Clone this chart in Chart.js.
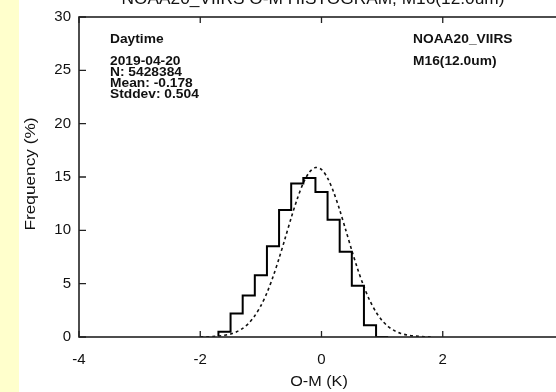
<!DOCTYPE html>
<html>
<head>
<meta charset="utf-8">
<script src="https://cdn.jsdelivr.net/npm/chart.js@4.4.1/dist/chart.umd.min.js"></script>
<style>
  html, body { margin: 0; padding: 0; overflow: hidden; background: #fff; }
  #strip { position: absolute; left: 0; top: 0; width: 19px; height: 392px; background: #ffffcc; }
  #wrap { position: absolute; left: 0; top: 0; width: 578px; height: 392px; }
</style>
</head>
<body>
<div id="wrap"><canvas id="histChart" width="578" height="392"></canvas></div>
<div id="strip"></div>
<script>
// Histogram bin edges (K) and frequency (%) held from each edge to the next
const binEdges = [-1.7, -1.5, -1.3, -1.1, -0.9, -0.7, -0.5, -0.3, -0.1, 0.1, 0.3, 0.5, 0.7, 0.9, 1.1];
const binFreq  = [0.1, 0.5, 2.2, 3.9, 5.8, 8.5, 11.9, 14.4, 14.9, 13.6, 11.0, 8.0, 4.8, 1.1, 0];

// Dashed fitted curve
const fitX = [-2.0, -1.9, -1.8, -1.7, -1.6, -1.5, -1.4, -1.3, -1.2, -1.1, -1.0, -0.9, -0.8, -0.7, -0.6, -0.5, -0.4, -0.3, -0.2, -0.1,
              0.0, 0.1, 0.2, 0.3, 0.4, 0.5, 0.6, 0.7, 0.8, 0.9, 1.0, 1.1, 1.2, 1.3, 1.4, 1.5, 1.6, 1.7, 1.8];
const fitY = [0.01, 0.02, 0.04, 0.08, 0.16, 0.28, 0.49, 0.81, 1.29, 1.99, 2.93, 4.14, 5.64, 7.37, 9.25, 11.17, 12.95, 14.43, 15.45, 15.89,
              15.70, 14.90, 13.59, 11.91, 10.03, 8.11, 6.31, 4.71, 3.38, 2.33, 1.54, 0.98, 0.60, 0.35, 0.20, 0.11, 0.06, 0.03, 0.01];

const xTicks = [-4, -2, 0, 2, 4];
const yTicks = [0, 5, 10, 15, 20, 25, 30];

const titleText = 'NOAA20_VIIRS O-M HISTOGRAM, M16(12.0um)';
const leftNotes = ['2019-04-20', 'N: 5428384', 'Mean: -0.178', 'Stddev: 0.504'];
const rightNotes = ['NOAA20_VIIRS', 'M16(12.0um)'];

const FONT = '"Liberation Sans", Arial, Helvetica, sans-serif';

// stretched text, the old plot font runs wider than Arial
function wideText(ctx, text, x, y, sx) {
    ctx.save();
    ctx.translate(x, y);
    ctx.scale(sx, 1);
    ctx.fillText(text, 0, 0);
    ctx.restore();
}

// frame, inward ticks, titles and notes
const framePlugin = {
    id: 'frame',
    afterDraw(chart) {
        const { ctx, chartArea: a, scales } = chart;
        const xs = scales.x, ys = scales.y;
        ctx.save();
        ctx.strokeStyle = '#222';
        ctx.lineWidth = 1.6;
        ctx.strokeRect(a.left, a.top, a.right - a.left, a.bottom - a.top);
        ctx.lineWidth = 1.3;
        ctx.beginPath();
        xTicks.forEach(v => {
            const px = xs.getPixelForValue(v);
            ctx.moveTo(px, a.bottom); ctx.lineTo(px, a.bottom - 6);
            ctx.moveTo(px, a.top); ctx.lineTo(px, a.top + 6);
        });
        yTicks.forEach(v => {
            const py = ys.getPixelForValue(v);
            ctx.moveTo(a.left, py); ctx.lineTo(a.left + 7, py);
            ctx.moveTo(a.right, py); ctx.lineTo(a.right - 8, py);
        });
        ctx.stroke();

        ctx.fillStyle = '#111';
        ctx.textAlign = 'center';
        ctx.textBaseline = 'alphabetic';
        ctx.font = '16px ' + FONT;
        wideText(ctx, titleText, 313, 4, 1.08);

        ctx.font = '15px ' + FONT;
        wideText(ctx, 'O-M (K)', 319, 386, 1.08);
        ctx.save();
        ctx.translate(35, 174);
        ctx.rotate(-Math.PI / 2);
        ctx.scale(1.15, 1);
        ctx.fillText('Frequency (%)', 0, 0);
        ctx.restore();

        ctx.textAlign = 'left';
        ctx.font = 'bold 13px ' + FONT;
        wideText(ctx, 'Daytime', 110, 43, 1.06);
        leftNotes.forEach((t, i) => wideText(ctx, t, 110, 65 + i * 11, 1.06));
        rightNotes.forEach((t, i) => wideText(ctx, t, 413, 43 + i * 22, 1.06));
        ctx.restore();
    }
};

new Chart(document.getElementById('histChart'), {
    type: 'line',
    data: {
        datasets: [
            {
                label: 'Histogram',
                data: binEdges.map((e, i) => ({ x: e, y: binFreq[i] })),
                stepped: 'after',
                borderColor: '#000',
                borderWidth: 2,
                pointRadius: 0,
                fill: false
            },
            {
                label: 'Fit',
                data: fitX.map((e, i) => ({ x: e, y: fitY[i] })),
                borderColor: '#111',
                borderWidth: 1.6,
                borderDash: [3, 3],
                pointRadius: 0,
                tension: 0.3,
                fill: false
            }
        ]
    },
    options: {
        responsive: false,
        animation: false,
        layout: { padding: { top: 12, right: 11, left: 0, bottom: 0 } },
        scales: {
            x: {
                type: 'linear',
                min: -4, max: 4,
                afterFit: s => { s.height = 55; },
                afterBuildTicks: s => { s.ticks = xTicks.map(v => ({ value: v })); },
                grid: { display: false, drawTicks: false },
                border: { display: false },
                ticks: {
                    padding: 14, color: '#111', font: { family: FONT, size: 15 },
                    callback: v => (v === 4 ? '' : v)
                }
            },
            y: {
                min: 0, max: 30,
                afterFit: s => { s.width = 79; },
                afterBuildTicks: s => { s.ticks = yTicks.map(v => ({ value: v })); },
                grid: { display: false, drawTicks: false },
                border: { display: false },
                ticks: { padding: 8, color: '#111', font: { family: FONT, size: 15 } }
            }
        },
        plugins: {
            legend: { display: false },
            tooltip: { enabled: false }
        }
    },
    plugins: [framePlugin]
});
</script>
</body>
</html>
